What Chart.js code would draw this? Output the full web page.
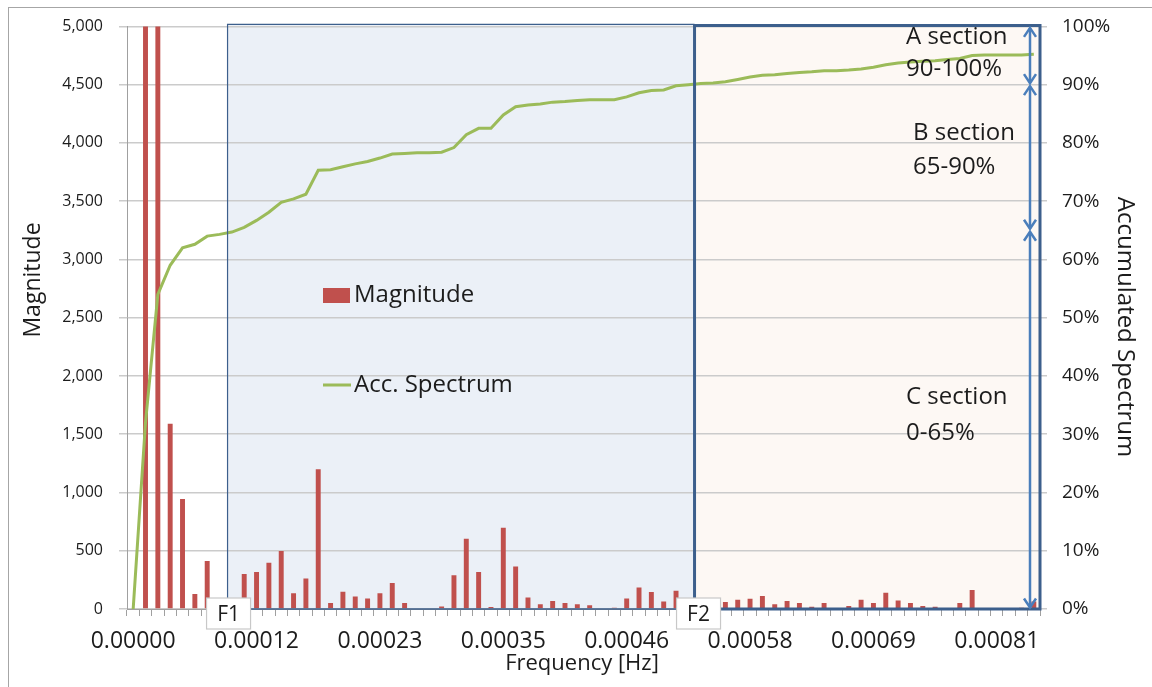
<!DOCTYPE html>
<html>
<head>
<meta charset="utf-8">
<title>Magnitude and accumulated spectrum</title>
<script src="https://cdn.jsdelivr.net/npm/chart.js@4.4.0/dist/chart.umd.min.js"></script>
<style>
	html, body { margin: 0; padding: 0; background: #fff; }
	#wrap { position: relative; width: 1152px; height: 687px; overflow: hidden; }
	#frame { position: absolute; left: 8px; top: 7px; width: 1300px; height: 800px; border-left: 1.5px solid #a6a6a6; border-top: 1.5px solid #a6a6a6; }
	#chart { position: absolute; left: 0; top: 0; }
</style>
</head>
<body>
<div id="wrap">
	<div id="frame"></div>
	<canvas id="chart" width="1152" height="687"></canvas>
</div>
<script>
// Frequency bins (1/86400 Hz apart); a label is printed on every 10th bin
const binCount = 74;
const labelEvery = 10;
const tickLabels = ['0.00000','0.00012','0.00023','0.00035','0.00046','0.00058','0.00069','0.00081'];

// Spectrum magnitude per bin (bins 1 and 2 run off the top of the axis)
const magnitude = [
	0, 9400, 6500, 1590, 945, 128, 412, 94, 90, 300,
	318, 398, 497, 136, 261, 1200, 51, 148, 108, 90,
	136, 224, 51, 0, 0, 22, 290, 602, 318, 17,
	697, 364, 99, 40, 68, 51, 40, 32, 0, 11,
	90, 185, 145, 65, 156, 55, 50, 30, 60, 80,
	88, 111, 40, 68, 51, 20, 51, 0, 26, 80,
	51, 139, 74, 51, 26, 20, 0, 51, 162, 0,
	0, 0, 11, 65
];

// Accumulated spectrum, percent of total
const accSpectrum = [
	0, 32, 54, 59, 62, 62.6, 64, 64.3, 64.7, 65.5,
	66.7, 68.1, 69.8, 70.4, 71.2, 75.3, 75.4, 75.9, 76.4, 76.8,
	77.4, 78.1, 78.2, 78.3, 78.3, 78.4, 79.2, 81.4, 82.5, 82.5,
	84.8, 86.2, 86.5, 86.7, 87.0, 87.1, 87.3, 87.4, 87.4, 87.4,
	87.9, 88.6, 89.0, 89.1, 89.8, 90.0, 90.2, 90.3, 90.5, 90.9,
	91.3, 91.6, 91.7, 91.9, 92.1, 92.2, 92.4, 92.4, 92.5, 92.7,
	93.0, 93.4, 93.7, 93.9, 94.0, 94.1, 94.3, 94.5, 95.0, 95.1,
	95.1, 95.1, 95.1, 95.2
];

// Section limits (percent) and the F1 / F2 cut positions (bin index)
const sectionEdges = [100, 90, 65, 0];
const f1Bin = 7.65;
const f2Bin = 45.5;

const FONT = '"Open Sans", "Liberation Sans", sans-serif';
const TEXT = '#1c1c1c';
const BAR = '#c0504d';
const LINE = '#9bbb59';
const BOX = '#3c5f8c';
const ARROW = '#4a7ebb';

const bins = [];
for (let i = 0; i < binCount; i++) bins.push(String(i));

function label(ctx, text, x, y, size, align){
	ctx.font = size + 'px ' + FONT;
	ctx.fillStyle = TEXT;
	ctx.textAlign = align || 'left';
	ctx.textBaseline = 'middle';
	ctx.fillText(text, x, y);
}

function arrowHead(ctx, x, y, dir){
	ctx.beginPath();
	ctx.moveTo(x - 6, y - dir * 9);
	ctx.lineTo(x, y);
	ctx.lineTo(x + 6, y - dir * 9);
	ctx.stroke();
}

const overlay = {
	id: 'overlay',
	beforeDraw(chart){
		const {ctx, chartArea: a, scales: {x}} = chart;
		const x1 = x.getPixelForValue(f1Bin), x2 = x.getPixelForValue(f2Bin);
		ctx.save();
		ctx.fillStyle = '#ebf0f7';
		ctx.fillRect(x1, a.top - 2, x2 - x1, a.bottom - a.top + 2);
		ctx.fillStyle = '#fdf8f4';
		ctx.fillRect(x2, a.top - 1, a.right - x2, a.bottom - a.top + 1);
		ctx.restore();
	},
	afterDatasetsDraw(chart){
		const {ctx, chartArea: a, scales: {x}} = chart;
		const x1 = x.getPixelForValue(f1Bin), x2 = x.getPixelForValue(f2Bin);
		ctx.save();
		ctx.strokeStyle = BOX;
		// blue box (F1 - F2)
		ctx.lineWidth = 1.2;
		ctx.beginPath();
		ctx.moveTo(x1, a.bottom); ctx.lineTo(x1, a.top - 2); ctx.lineTo(x2, a.top - 2);
		ctx.stroke();
		ctx.lineWidth = 1.6;
		ctx.beginPath(); ctx.moveTo(x1, a.bottom); ctx.lineTo(x2, a.bottom); ctx.stroke();
		// peach box (F2 - end)
		ctx.lineWidth = 3;
		ctx.beginPath();
		ctx.moveTo(x2, a.bottom); ctx.lineTo(x2, a.top - 1);
		ctx.lineTo(a.right, a.top - 1); ctx.lineTo(a.right, a.bottom); ctx.lineTo(x2, a.bottom);
		ctx.stroke();
		ctx.restore();
	},
	afterDraw(chart){
		const {ctx, chartArea: a, scales: {x, y1}} = chart;
		ctx.save();
		// section arrows
		const ax = a.right - 10;
		ctx.strokeStyle = ARROW;
		ctx.lineWidth = 2.5;
		for (let i = 0; i < sectionEdges.length - 1; i++){
			const ya = y1.getPixelForValue(sectionEdges[i]) + 1.5;
			const yb = y1.getPixelForValue(sectionEdges[i + 1]) - 1.5;
			ctx.beginPath(); ctx.moveTo(ax, ya); ctx.lineTo(ax, yb); ctx.stroke();
			arrowHead(ctx, ax, ya, -1);
			arrowHead(ctx, ax, yb, 1);
		}
		// section texts
		label(ctx, 'A section', 906, 37, 24);
		label(ctx, '90-100%', 906, 69, 24);
		label(ctx, 'B section', 913, 133, 24);
		label(ctx, '65-90%', 913, 167, 24);
		label(ctx, 'C section', 906, 397, 24);
		label(ctx, '0-65%', 906, 433, 24);

		// legend
		ctx.fillStyle = BAR;
		ctx.fillRect(323, 288, 27, 15);
		label(ctx, 'Magnitude', 354, 295, 24);
		ctx.strokeStyle = LINE;
		ctx.lineWidth = 3;
		ctx.beginPath(); ctx.moveTo(323, 385); ctx.lineTo(351, 385); ctx.stroke();
		label(ctx, 'Acc. Spectrum', 354, 385, 24);

		// F1 / F2 tags
		[[f1Bin, 'F1', 1], [f2Bin, 'F2', 4]].forEach(([bin, t, dx]) => {
			const cx = x.getPixelForValue(bin) + dx;
			ctx.fillStyle = '#fff';
			ctx.strokeStyle = '#c8c8c8';
			ctx.lineWidth = 1.2;
			ctx.fillRect(cx - 22, a.bottom - 11, 44, 31);
			ctx.strokeRect(cx - 22, a.bottom - 11, 44, 31);
			label(ctx, t, cx, a.bottom + 6, 21, 'center');
		});

		// axis titles
		ctx.save();
		ctx.translate(33, 280); ctx.rotate(-Math.PI / 2);
		label(ctx, 'Magnitude', 0, 0, 23, 'center');
		ctx.restore();
		ctx.save();
		ctx.translate(1125, 327); ctx.rotate(Math.PI / 2);
		label(ctx, 'Accumulated Spectrum', 0, 0, 24, 'center');
		ctx.restore();
		label(ctx, 'Frequency [Hz]', 582, 664, 22, 'center');
		ctx.restore();
	}
};

new Chart(document.getElementById('chart'), {
	type: 'bar',
	data: {
		labels: bins,
		datasets: [
			{ type: 'line', label: 'Acc. Spectrum', data: accSpectrum, yAxisID: 'y1', borderColor: LINE, borderWidth: 3, pointRadius: 0, tension: 0, fill: false, order: 0 },
			{ type: 'bar', label: 'Magnitude', data: magnitude, yAxisID: 'y', backgroundColor: BAR, barPercentage: 0.4, categoryPercentage: 1, order: 1 }
		]
	},
	options: {
		responsive: false,
		animation: false,
		devicePixelRatio: 1,
		layout: { padding: { left: 0, right: 0, top: 23, bottom: 0 } },
		plugins: { legend: { display: false }, tooltip: { enabled: false } },
		scales: {
			x: {
				offset: true,
				grid: { display: true, offset: true, drawOnChartArea: false, drawTicks: true, tickLength: 7, color: '#a0a0a0' },
				border: { color: '#a0a0a0' },
				ticks: {
					autoSkip: false, maxRotation: 0, minRotation: 0, padding: 12, color: TEXT,
					font: { family: FONT, size: 23 },
					callback: (v, i) => i % labelEvery === 0 ? tickLabels[i / labelEvery] : ''
				},
				afterFit: s => { s.height = 78; }
			},
			y: {
				position: 'left', min: 0, max: 5000,
				grid: { color: '#cbcbcb', lineWidth: 1.5, tickLength: 8 },
				border: { color: '#a0a0a0' },
				ticks: { stepSize: 500, padding: 16, color: TEXT, font: { family: FONT, size: 16 },
					callback: v => v.toLocaleString('en-US') },
				afterFit: s => { s.width = 127; }
			},
			y1: {
				position: 'right', min: 0, max: 100,
				grid: { drawOnChartArea: false, color: '#cbcbcb', lineWidth: 1.5, tickLength: 7 },
				border: { display: false },
				ticks: { stepSize: 10, padding: 15, color: TEXT, font: { family: FONT, size: 19 },
					callback: v => v + '%' },
				afterFit: s => { s.width = 112; }
			}
		}
	},
	plugins: [overlay]
});
</script>
</body>
</html>
